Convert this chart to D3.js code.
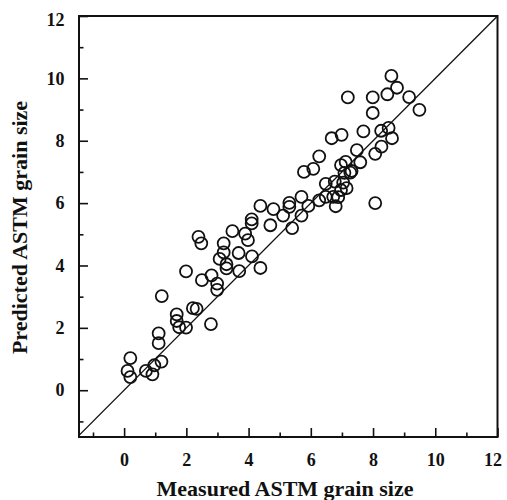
<!DOCTYPE html>
<html>
<head>
<meta charset="utf-8">
<script src="https://cdn.jsdelivr.net/npm/d3@7"></script>
<style>
  html, body { margin: 0; padding: 0; background: #fff; }
  svg { display: block; }
  text { font-family: "Liberation Serif", "Times New Roman", serif; font-weight: bold; fill: #111; }
</style>
</head>
<body>
<svg id="chart" width="507" height="500"></svg>
<script>
// Measured vs predicted ASTM grain size
const measured = [
  0.11, 0.20, 0.20, 0.70, 0.91, 0.97, 1.20, 1.11, 1.11, 1.21,
  1.69, 1.69, 1.77, 1.99, 1.99, 2.21, 2.33, 2.79, 2.39, 2.48,
  2.50, 2.81, 2.99, 2.99, 3.07, 3.20, 3.20, 3.29, 3.29, 3.48,
  3.68, 3.70, 3.89, 3.98, 4.10, 4.10, 4.11, 4.38, 4.38, 4.70,
  4.80, 5.11, 5.31, 5.31, 5.40, 5.70, 5.70, 5.78, 5.92, 6.08,
  6.27, 6.27, 6.48, 6.48, 6.67, 6.77, 6.80, 6.88, 6.97, 6.99,
  6.97, 7.04, 7.12, 7.15, 7.08, 7.19, 7.27, 7.31, 7.48, 7.59,
  7.69, 7.99, 7.99, 8.07, 8.07, 8.27, 8.26, 8.46, 8.50, 8.59,
  8.61, 8.77, 9.16, 9.49, 6.72
];
const predicted = [
  0.62, 1.03, 0.42, 0.62, 0.51, 0.80, 0.92, 1.82, 1.51, 3.02,
  2.43, 2.22, 2.02, 2.01, 3.81, 2.63, 2.61, 2.12, 4.92, 4.71,
  3.53, 3.68, 3.42, 3.22, 4.21, 4.71, 4.42, 4.04, 3.91, 5.10,
  4.40, 3.82, 5.02, 4.81, 5.48, 5.35, 4.29, 3.92, 5.91, 5.29,
  5.81, 5.60, 6.01, 5.88, 5.20, 6.20, 5.60, 7.00, 5.91, 7.10,
  7.50, 6.09, 6.62, 6.20, 8.08, 6.69, 5.90, 6.19, 6.42, 8.19,
  7.22, 6.66, 7.32, 6.48, 6.97, 9.39, 6.98, 7.03, 7.70, 7.31,
  8.30, 8.89, 9.39, 7.58, 6.00, 7.81, 8.32, 9.49, 8.41, 10.08,
  8.08, 9.70, 9.40, 8.99, 6.20
];
const majorTicks = [0, 2, 4, 6, 8, 10, 12];
const minorTicksX = [-1, 1, 3, 5, 7, 9, 11];
const minorTicksY = [-1, 1, 3, 5, 7, 9, 11];
const xTitle = "Measured ASTM grain size";
const yTitle = "Predicted ASTM grain size";

const svg = d3.select("#chart");
const plot = { left: 79, right: 497.5, top: 16, bottom: 437 };

const x = d3.scaleLinear().domain([-1.45, 12]).range([plot.left, plot.right]);
const y = d3.scaleLinear().domain([-1.5, 12]).range([plot.bottom, plot.top]);

svg.append("defs").append("clipPath").attr("id", "plot-clip")
  .append("rect")
  .attr("x", plot.left).attr("y", plot.top)
  .attr("width", plot.right - plot.left).attr("height", plot.bottom - plot.top);

// 1:1 reference line
svg.append("line")
  .attr("clip-path", "url(#plot-clip)")
  .attr("x1", x(-1.5)).attr("y1", y(-1.5))
  .attr("x2", x(12.2)).attr("y2", y(12.2))
  .attr("stroke", "#111").attr("stroke-width", 1.3);

// data points as open circles
const pts = measured.map((m, i) => ({ m, p: predicted[i] }));
svg.append("g").selectAll("circle").data(pts).join("circle")
  .attr("cx", d => x(d.m)).attr("cy", d => y(d.p))
  .attr("r", 6)
  .attr("fill", "none")
  .attr("stroke", "#111")
  .attr("stroke-width", 1.8);

// axes with inward ticks
function styleAxis(g) {
  g.select(".domain").remove();
  g.selectAll(".tick line").attr("stroke", "#111").attr("stroke-width", 1.6);
}

const xAxis = svg.append("g")
  .attr("transform", `translate(0,${plot.bottom})`)
  .call(d3.axisBottom(x).tickValues(majorTicks).tickSize(-9).tickPadding(16).tickFormat(d3.format("d")));
styleAxis(xAxis);
xAxis.selectAll("text").attr("font-size", 18).attr("font-family", null).attr("fill", "#111");
xAxis.selectAll(".tick").filter(d => d === 12).select("text").attr("dx", -5);

svg.append("g")
  .attr("transform", `translate(0,${plot.bottom})`)
  .call(d3.axisBottom(x).tickValues(minorTicksX).tickSize(-4.5).tickFormat(""))
  .call(styleAxis);

const yAxis = svg.append("g")
  .attr("transform", `translate(${plot.left},0)`)
  .call(d3.axisLeft(y).tickValues(majorTicks).tickSize(-9).tickPadding(14.5).tickFormat(d3.format("d")));
styleAxis(yAxis);
yAxis.selectAll("text").attr("font-size", 18).attr("font-family", null).attr("fill", "#111");
yAxis.selectAll(".tick").filter(d => d === 12).select("text").attr("dy", "0.55em");

svg.append("g")
  .attr("transform", `translate(${plot.left},0)`)
  .call(d3.axisLeft(y).tickValues(minorTicksY).tickSize(-4.5).tickFormat(""))
  .call(styleAxis);

// frame
svg.append("rect")
  .attr("x", plot.left).attr("y", plot.top)
  .attr("width", plot.right - plot.left).attr("height", plot.bottom - plot.top)
  .attr("fill", "none").attr("stroke", "#111").attr("stroke-width", 2);

// axis titles
svg.append("text")
  .attr("x", 285).attr("y", 496)
  .attr("text-anchor", "middle")
  .attr("font-size", 22)
  .text(xTitle);

svg.append("text")
  .attr("transform", `translate(27,${(plot.top + plot.bottom) / 2 + 1}) rotate(-90)`)
  .attr("text-anchor", "middle")
  .attr("font-size", 22)
  .text(yTitle);
</script>
</body>
</html>
